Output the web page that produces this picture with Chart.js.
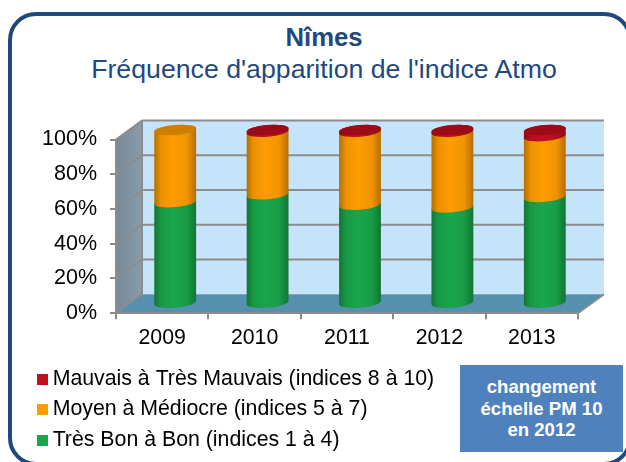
<!DOCTYPE html>
<html>
<head>
<meta charset="utf-8">
<script src="https://cdn.jsdelivr.net/npm/chart.js@4"></script>
<style>
  html, body { margin: 0; background: #fff; overflow: hidden; }
  body { width: 626px; height: 462px; position: relative; font-family: "Liberation Sans", Arial, sans-serif; }
  #frame { position: absolute; left: 8px; top: 12px; width: 616px; height: 446px; border: 4px solid #1f497d; border-radius: 28px; box-sizing: content-box; }
  .title { position: absolute; left: 0; width: 648px; text-align: center; color: #1f497d; white-space: nowrap; }
  #t1 { top: 23px; font-size: 25.7px; font-weight: bold; }
  #t2 { top: 54px; font-size: 26.7px; }
  #note { position: absolute; left: 460px; top: 365px; width: 163px; height: 87px; background: #4f81bd; color: #fff;
          font-weight: bold; font-size: 18.6px; line-height: 21.5px; text-align: center; padding-top: 11px; box-sizing: border-box; }
  canvas { position: absolute; left: 0; top: 0; }
</style>
</head>
<body>
<div id="frame"></div>
<div class="title" id="t1">Nîmes</div>
<div class="title" id="t2">Fréquence d'apparition de l'indice Atmo</div>
<canvas id="barChart" width="626" height="462"></canvas>
<div id="note">changement<br>échelle PM 10<br>en 2012</div>
<script>
const years = ["2009", "2010", "2011", "2012", "2013"];
const bon = [58.5, 63, 57, 55.5, 61.5];
const moyen = [41.5, 36, 42, 43.5, 35];
const mauvais = [0, 1, 1, 1, 3.5];

const greenCol = "#1aa64b";
const orangeCol = "#ff9c00";
const redCol = "#c20f1e";
const gridCol = "#8c8c8c";

// depth of the fake 3D box
const depthX = 26;
const depthY = -19;

Chart.defaults.font.family = '"Liberation Sans", Arial, sans-serif';

const shade = (c, k) => Chart.helpers.color(c).darken(k).rgbString();

// legend marker, 2px of empty space on the left to sit closer to the label
function swatch(c) {
  const s = document.createElement("canvas");
  s.width = 13;
  s.height = 11;
  const g = s.getContext("2d");
  g.fillStyle = c;
  g.fillRect(2, 0, 11, 11);
  return s;
}

function poly(ctx, pts, fill) {
  ctx.beginPath();
  pts.forEach((p, i) => (i ? ctx.lineTo(p[0], p[1]) : ctx.moveTo(p[0], p[1])));
  ctx.closePath();
  ctx.fillStyle = fill;
  ctx.fill();
}

function line(ctx, x1, y1, x2, y2) {
  ctx.beginPath();
  ctx.moveTo(x1, y1);
  ctx.lineTo(x2, y2);
  ctx.stroke();
}

const box3d = {
  id: "box3d",
  beforeDraw(chart) {
    const { ctx, chartArea: a, scales } = chart;
    const bx = a.left + depthX;
    const rx = a.right + depthX;
    const by = (y) => y + depthY;
    ctx.save();
    poly(ctx, [[bx, by(a.top)], [rx, by(a.top)], [rx, by(a.bottom)], [bx, by(a.bottom)]], "#c6e4f9");
    const side = ctx.createLinearGradient(a.left, 0, bx, 0);
    side.addColorStop(0, "#75899a");
    side.addColorStop(1, "#8a9ba8");
    poly(ctx, [[a.left, a.top], [bx, by(a.top)], [bx, by(a.bottom)], [a.left, a.bottom]], side);
    poly(ctx, [[a.left, a.bottom], [a.right, a.bottom], [rx, by(a.bottom)], [bx, by(a.bottom)]], "#5591af");
    ctx.strokeStyle = gridCol;
    ctx.lineWidth = 2;
    scales.y.ticks.forEach((t) => {
      const y = scales.y.getPixelForValue(t.value);
      if (t.value > 0) line(ctx, bx, by(y), rx, by(y));
      line(ctx, a.left, y, bx, by(y));
    });
    line(ctx, bx, by(a.top), bx, by(a.bottom));
    line(ctx, a.right, a.bottom, rx, by(a.bottom));
    ctx.restore();
  },
  beforeDatasetsDraw(chart) {
    const { ctx } = chart;
    const dx = depthX / 2;
    const dy = depthY / 2;
    const tilt = -0.09;
    const ry = 5;
    years.forEach((yr, i) => {
      let top = null;
      chart.data.datasets.forEach((ds, d) => {
        const bar = chart.getDatasetMeta(d).data[i];
        if (!ds.data[i]) return;
        const w = bar.width / 2;
        const x = bar.x + dx;
        const g = ctx.createLinearGradient(x - w, 0, x + w, 0);
        const col = ds.backgroundColor;
        g.addColorStop(0, shade(col, 0.3));
        g.addColorStop(0.16, shade(col, 0.08));
        g.addColorStop(0.45, col);
        g.addColorStop(0.78, shade(col, 0.06));
        g.addColorStop(1, shade(col, 0.3));
        ctx.beginPath();
        ctx.ellipse(x, bar.base + dy, w, ry, tilt, 0, Math.PI);
        ctx.ellipse(x, bar.y + dy, w, ry, tilt, Math.PI, 2 * Math.PI);
        ctx.closePath();
        ctx.fillStyle = g;
        ctx.fill();
        top = { x, y: bar.y + dy, w, col };
      });
      ctx.beginPath();
      ctx.ellipse(top.x, top.y, top.w, ry, tilt, 0, 2 * Math.PI);
      ctx.fillStyle = shade(top.col, 0.2);
      ctx.fill();
    });
    return false; // the cylinders replace the flat bars
  },
};

new Chart(document.getElementById("barChart"), {
  type: "bar",
  plugins: [box3d],
  data: {
    labels: years,
    datasets: [
      { label: "Très Bon à Bon (indices 1 à 4)", data: bon, backgroundColor: greenCol },
      { label: "Moyen à Médiocre (indices 5 à 7)", data: moyen, backgroundColor: orangeCol },
      { label: "Mauvais à Très Mauvais (indices 8 à 10)", data: mauvais, backgroundColor: redCol },
    ],
  },
  options: {
    responsive: false,
    animation: false,
    events: [],
    layout: { padding: { left: 31.8, right: 48, top: 139.5, bottom: 1.3 } },
    datasets: { bar: { barPercentage: 0.4545, categoryPercentage: 1 } },
    scales: {
      x: {
        stacked: true,
        afterFit(s) { s.height = 46; },
        grid: { drawOnChartArea: false, color: gridCol, lineWidth: 2, tickLength: 6 },
        border: { color: gridCol, width: 2 },
        ticks: { color: "#000", font: { size: 21.3 }, padding: 6, maxRotation: 0 },
      },
      y: {
        stacked: true,
        min: 0,
        max: 100,
        afterFit(s) { s.width = 84.2; },
        grid: { drawOnChartArea: false, color: gridCol, lineWidth: 2, tickLength: 6 },
        border: { color: gridCol, width: 2 },
        ticks: { stepSize: 20, color: "#000", font: { size: 21.5 }, padding: 13, callback: (v) => v + "%" },
      },
    },
    plugins: {
      tooltip: { enabled: false },
      legend: {
        position: "bottom",
        align: "start",
        labels: {
          color: "#000",
          font: { size: 21.3 },
          padding: 9.2,
          usePointStyle: true,
          pointStyleWidth: 1,
          generateLabels: (chart) =>
            chart.data.datasets
              .map((d, i) => ({ text: d.label, pointStyle: swatch(d.backgroundColor), datasetIndex: i, lineWidth: 0 }))
              .reverse(),
        },
      },
    },
  },
});
</script>
</body>
</html>
